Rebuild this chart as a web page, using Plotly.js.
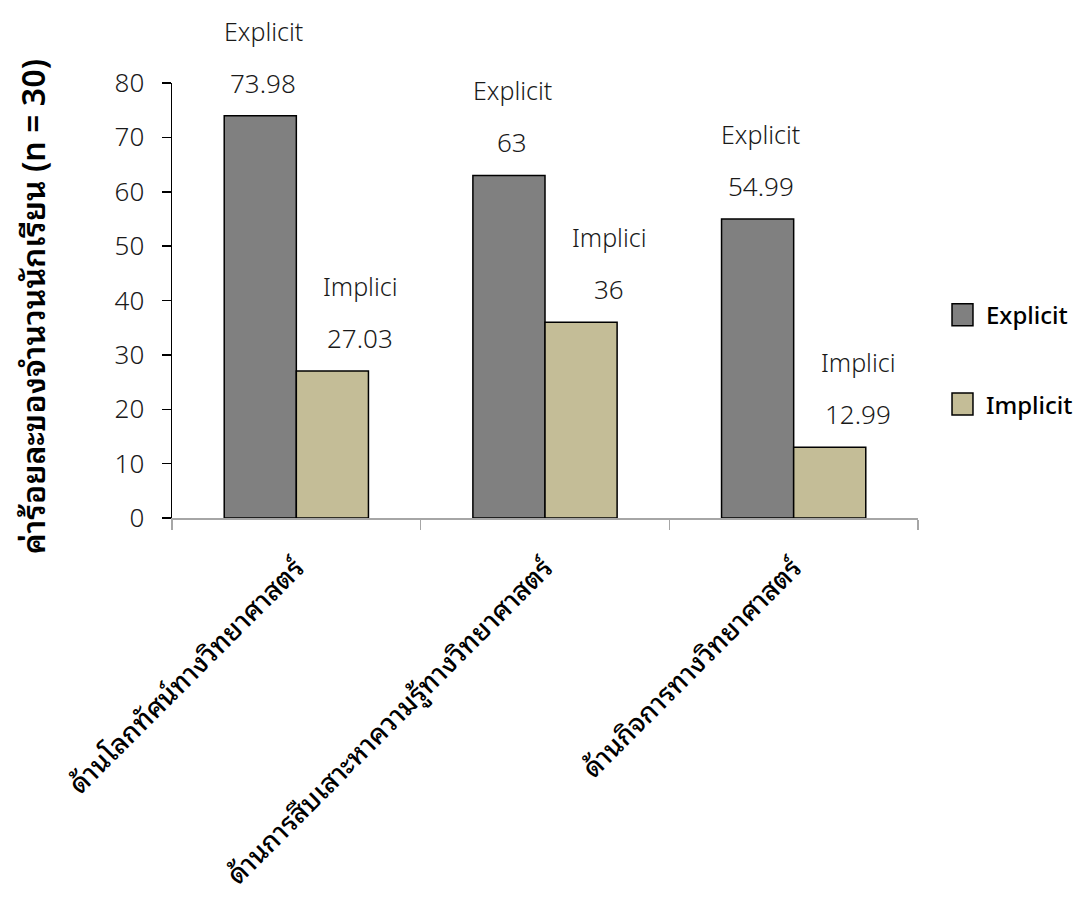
<!DOCTYPE html>
<html>
<head>
<meta charset="utf-8">
<script src="https://cdn.plot.ly/plotly-3.0.1.min.js"></script>
<style>
  html, body { margin: 0; padding: 0; background: #ffffff; }
  #chart { width: 1086px; height: 918px; }
</style>
</head>
<body>
<div id="chart"></div>
<script>
// Categories (Thai) and the two series of percentages
const categories = [
  "ด้านโลกทัศน์ทางวิทยาศาสตร์",
  "ด้านการสืบเสาะหาความรู้ทางวิทยาศาสตร์",
  "ด้านกิจการทางวิทยาศาสตร์"
];
const seriesNames = ["Explicit", "Implicit"];
const pointLabels = ["Explicit", "Implici"];
const explicitValues = [73.98, 63, 54.99];
const implicitValues = [27.03, 36, 12.99];
const seriesColors = ["#808080", "#c4bd97"];
const yTicks = [0, 10, 20, 30, 40, 50, 60, 70, 80];
const yTitle = "ค่าร้อยละของจำนวนนักเรียน (n = 30)";

const FONT = "'Noto Sans', 'Noto Sans Thai Looped', sans-serif";
const THAI = "'Noto Sans Thai Looped', 'Noto Sans', sans-serif";

const seriesValues = [explicitValues, implicitValues];

const traces = seriesValues.map((vals, i) => ({
  type: "bar",
  name: seriesNames[i],
  x: categories,
  y: vals,
  marker: { color: seriesColors[i], line: { color: "#000000", width: 1.5 } },
  showlegend: false,
  hoverinfo: "skip"
}));

// Per-bar labels: value just above the bar, series name above that
const labelShiftX = [-33, 64];
const annotations = [];
seriesValues.forEach((vals, i) => {
  vals.forEach((v, j) => {
    annotations.push({
      x: categories[j], y: v, xref: "x", yref: "y",
      text: String(v), showarrow: false,
      xanchor: "center", yanchor: "middle",
      xshift: labelShiftX[i], yshift: 33,
      font: { family: FONT, size: 26, color: "#1a1a1a", weight: 300 }
    });
    annotations.push({
      x: categories[j], y: v, xref: "x", yref: "y",
      text: pointLabels[i], showarrow: false,
      xanchor: "center", yanchor: "middle",
      xshift: labelShiftX[i], yshift: 85,
      font: { family: FONT, size: 25, color: "#1a1a1a", weight: 300 }
    });
  });
});

// Vertical axis title
annotations.push({
  xref: "paper", yref: "paper", x: -0.19, y: 0.485,
  text: yTitle, showarrow: false, textangle: -90,
  xanchor: "center", yanchor: "middle",
  font: { family: THAI, size: 32, color: "#000000", weight: 600 }
});

// Legend: swatches and names on the right
const legendY = [0.467, 0.262];
const shapes = [];
seriesNames.forEach((name, i) => {
  shapes.push({
    type: "rect", xref: "paper", yref: "paper",
    x0: 1.0456, x1: 1.0737, y0: legendY[i] - 0.0253, y1: legendY[i] + 0.0253,
    fillcolor: seriesColors[i], line: { color: "#000000", width: 1.5 }
  });
  annotations.push({
    xref: "paper", yref: "paper", x: 1.0885, y: legendY[i],
    text: name, showarrow: false,
    xanchor: "left", yanchor: "middle",
    font: { family: FONT, size: 24, color: "#000000", weight: 500 }
  });
});

const layout = {
  width: 1086,
  height: 918,
  margin: { l: 172, r: 168, t: 83, b: 400 },
  paper_bgcolor: "#ffffff",
  plot_bgcolor: "#ffffff",
  barmode: "group",
  bargap: 0.42,
  bargroupgap: 0,
  showlegend: false,
  font: { family: FONT, color: "#1a1a1a" },
  xaxis: {
    type: "category",
    tickson: "boundaries",
    ticks: "outside",
    ticklen: 10,
    tickwidth: 1.5,
    tickcolor: "#a6a6a6",
    showline: true,
    linecolor: "#a6a6a6",
    linewidth: 1.5,
    showgrid: false,
    zeroline: false,
    tickangle: -45,
    ticklabelstandoff: 22,
    tickfont: { family: THAI, size: 27, color: "#000000", weight: 500 }
  },
  yaxis: {
    range: [0, 80],
    tickvals: yTicks,
    ticks: "outside",
    ticklen: 9,
    tickwidth: 1.5,
    tickcolor: "#000000",
    showline: true,
    linecolor: "#000000",
    linewidth: 1.5,
    showgrid: false,
    zeroline: false,
    ticklabelstandoff: 12,
    tickfont: { family: FONT, size: 26, color: "#1a1a1a", weight: 300 }
  },
  annotations: annotations,
  shapes: shapes
};

Plotly.newPlot("chart", traces, layout, { staticPlot: true, displayModeBar: false });
</script>
</body>
</html>
